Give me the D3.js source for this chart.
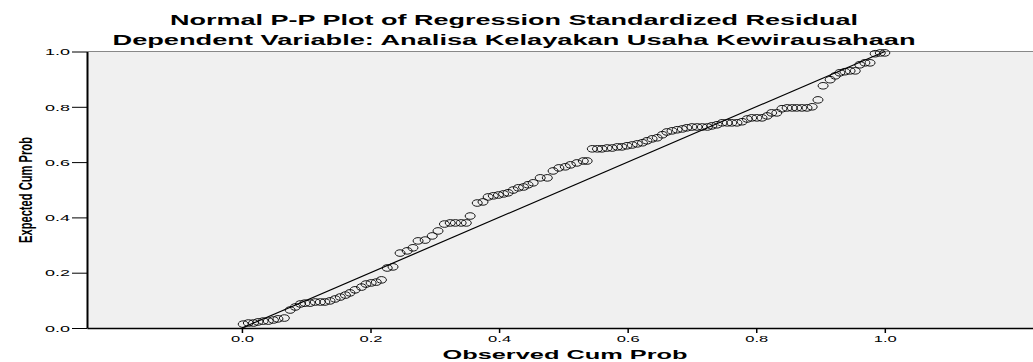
<!DOCTYPE html>
<html>
<head>
<meta charset="utf-8">
<script src="https://cdn.jsdelivr.net/npm/d3@7"></script>
<style>
  html, body { margin: 0; padding: 0; background: #fff; }
  svg { display: block; font-family: Arial, "Liberation Sans", sans-serif; }
</style>
</head>
<body>
<div class="wrapper"></div>
<script>
const titleLines = ["Normal P-P Plot of Regression Standardized Residual",
  "Dependent Variable: Analisa Kelayakan Usaha Kewirausahaan"];
const xLabel = "Observed Cum Prob";
const yLabel = "Expected Cum Prob";
const xTicks = [0, 0.2, 0.4, 0.6, 0.8, 1.0];
const yTicks = [0, 0.2, 0.4, 0.6, 0.8, 1.0];

const observed = [0.002,0.010,0.018,0.025,0.033,0.041,0.049,0.056,0.066,0.075,
  0.083,0.091,0.098,0.106,0.114,0.122,0.129,0.137,0.145,0.153,
  0.161,0.168,0.176,0.186,0.193,0.201,0.209,0.217,0.226,0.235,
  0.246,0.257,0.266,0.274,0.285,0.296,0.305,0.315,0.324,0.332,
  0.341,0.349,0.355,0.366,0.375,0.383,0.391,0.399,0.407,0.414,
  0.422,0.430,0.438,0.445,0.453,0.464,0.475,0.484,0.493,0.503,
  0.511,0.521,0.531,0.537,0.545,0.553,0.560,0.568,0.576,0.584,
  0.591,0.599,0.607,0.615,0.623,0.630,0.638,0.646,0.654,0.661,
  0.669,0.677,0.685,0.692,0.700,0.708,0.716,0.724,0.731,0.739,
  0.747,0.755,0.762,0.770,0.778,0.786,0.793,0.801,0.809,0.817,
  0.824,0.832,0.840,0.848,0.856,0.863,0.871,0.879,0.887,0.896,
  0.904,0.915,0.923,0.930,0.938,0.946,0.954,0.961,0.969,0.977,
  0.985,0.993,1.000];
const expected = [0.014,0.018,0.018,0.022,0.025,0.025,0.029,0.033,0.036,0.065,
  0.076,0.087,0.090,0.090,0.094,0.094,0.094,0.098,0.105,0.112,
  0.119,0.127,0.138,0.148,0.159,0.163,0.166,0.174,0.217,0.221,
  0.271,0.279,0.290,0.315,0.318,0.333,0.351,0.376,0.380,0.380,
  0.380,0.380,0.405,0.452,0.456,0.474,0.478,0.481,0.485,0.489,
  0.499,0.507,0.510,0.518,0.525,0.543,0.543,0.568,0.579,0.583,
  0.590,0.597,0.604,0.604,0.648,0.648,0.648,0.651,0.651,0.655,
  0.655,0.659,0.662,0.666,0.670,0.677,0.684,0.688,0.699,0.709,
  0.713,0.717,0.720,0.724,0.727,0.727,0.727,0.727,0.731,0.735,
  0.742,0.742,0.742,0.742,0.746,0.756,0.760,0.760,0.760,0.767,
  0.778,0.778,0.793,0.796,0.796,0.796,0.796,0.796,0.800,0.825,
  0.876,0.898,0.912,0.923,0.927,0.930,0.930,0.952,0.959,0.959,
  0.992,0.995,0.995];

const dim = {
  width: 1033,
  height: 362,
  marginTop: 51.5,
  marginRight: 0,
  marginBottom: 34,
  marginLeft: 87
};
dim.boundedWidth = dim.width - dim.marginLeft - dim.marginRight;
dim.boundedHeight = dim.height - dim.marginTop - dim.marginBottom;

const points = observed.map((d, i) => ({x: d, y: expected[i]}));

const xScale = d3.scaleLinear()
  .domain([-0.241, 1.2305])
  .range([dim.marginLeft, dim.width - dim.marginRight]);

const yScale = d3.scaleLinear()
  .domain([0, 1])
  .range([dim.height - dim.marginBottom, dim.marginTop]);

const wrapper = d3.select('.wrapper').append('svg')
  .attr('width', dim.width)
  .attr('height', dim.height);

wrapper.append('rect')
  .attr('x', dim.marginLeft)
  .attr('y', dim.marginTop)
  .attr('width', dim.boundedWidth)
  .attr('height', dim.boundedHeight)
  .attr('fill', '#f0f0f0');

wrapper.append('line')
  .attr('x1', dim.marginLeft).attr('x2', dim.width)
  .attr('y1', dim.marginTop).attr('y2', dim.marginTop)
  .attr('stroke', '#888').attr('stroke-width', 1.2);

// diagonal reference
wrapper.append('line')
  .attr('x1', xScale(0)).attr('y1', yScale(0))
  .attr('x2', xScale(1)).attr('y2', yScale(1))
  .attr('stroke', '#000').attr('stroke-width', 1.2);

wrapper.append('g')
  .selectAll('ellipse')
  .data(points)
  .join('ellipse')
  .attr('cx', d => xScale(d.x))
  .attr('cy', d => yScale(d.y))
  .attr('rx', 5)
  .attr('ry', 3.3)
  .attr('fill', 'none')
  .attr('stroke', '#000')
  .attr('stroke-width', 0.9);

const xAxis = wrapper.append('g')
  .attr('transform', `translate(0,${yScale(0)})`)
  .call(d3.axisBottom(xScale).tickValues(xTicks).tickFormat(d3.format('.1f')).tickSize(5).tickSizeOuter(0));
xAxis.select('.domain').attr('stroke-width', 1.5);
xAxis.selectAll('.tick line').attr('stroke-width', 1.5);
xAxis.selectAll('text')
  .attr('font-size', 9)
  .attr('font-family', 'Arial, "Liberation Sans", sans-serif')
  .attr('y', 8)
  .attr('textLength', 23)
  .attr('lengthAdjust', 'spacingAndGlyphs');

const yAxis = wrapper.append('g')
  .attr('transform', `translate(${dim.marginLeft},0)`)
  .call(d3.axisLeft(yScale).tickValues(yTicks).tickFormat(d3.format('.1f')).tickSize(15).tickSizeOuter(0));
yAxis.select('.domain').attr('stroke-width', 2);
yAxis.selectAll('.tick line').attr('stroke-width', 1);
yAxis.selectAll('text')
  .attr('font-size', 9)
  .attr('font-family', 'Arial, "Liberation Sans", sans-serif')
  .attr('x', -17)
  .attr('dy', '0.36em')
  .attr('textLength', 25)
  .attr('lengthAdjust', 'spacingAndGlyphs');

const titleSpec = [{y: 25, w: 688}, {y: 45, w: 803}];
wrapper.append('g')
  .selectAll('text')
  .data(titleLines)
  .join('text')
  .attr('x', 514)
  .attr('y', (d, i) => titleSpec[i].y)
  .attr('text-anchor', 'middle')
  .attr('font-size', 14)
  .attr('font-weight', 'bold')
  .attr('textLength', (d, i) => titleSpec[i].w)
  .attr('lengthAdjust', 'spacingAndGlyphs')
  .text(d => d);

wrapper.append('text')
  .attr('x', 565)
  .attr('y', 359)
  .attr('text-anchor', 'middle')
  .attr('font-size', 12)
  .attr('font-weight', 'bold')
  .attr('textLength', 245)
  .attr('lengthAdjust', 'spacingAndGlyphs')
  .text(xLabel);

wrapper.append('text')
  .attr('transform', 'translate(32,190) rotate(-90)')
  .attr('text-anchor', 'middle')
  .attr('font-size', 18)
  .attr('font-weight', 'bold')
  .attr('textLength', 106)
  .attr('lengthAdjust', 'spacingAndGlyphs')
  .text(yLabel);
</script>
</body>
</html>
